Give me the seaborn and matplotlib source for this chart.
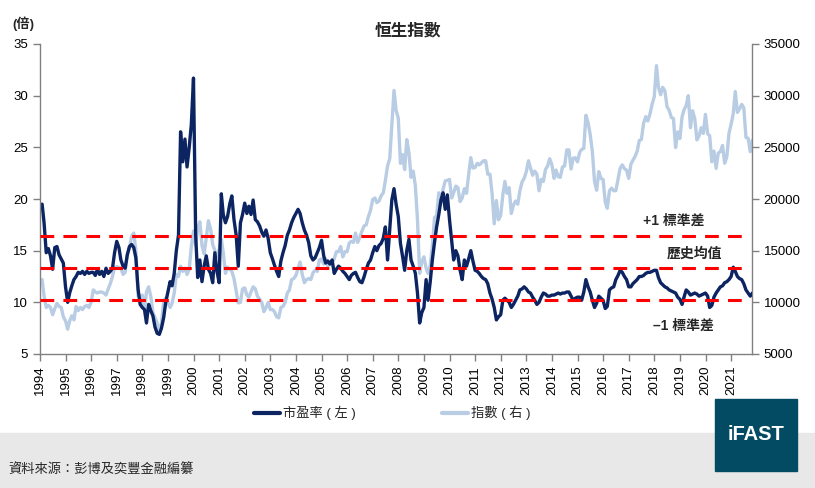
import pandas as pd
import matplotlib.pyplot as plt
import matplotlib.patches as mpatches
from matplotlib.lines import Line2D
import seaborn as sns

# monthly P/E of the Hang Seng Index (left axis), Jan 1994 - Oct 2021
pe_ratio = [
    19.5, 17.7, 14.8, 15.2, 14.5, 13.2, 15.3, 15.4, 14.6, 14.2, 13.8, 11.5,  # 1994
    10.0, 10.9, 11.6, 12.2, 12.5, 12.9, 12.8, 13.0, 12.7, 13.0, 12.8, 12.9,  # 1995
    12.9, 12.6, 13.2, 12.7, 13.0, 12.5, 13.3, 12.8, 13.0, 13.3, 14.8, 15.9,  # 1996
    15.3, 14.1, 13.5, 13.3, 14.6, 15.4, 15.6, 15.3, 14.3, 11.3, 9.8, 9.5,    # 1997
    9.3, 8.0, 9.8, 9.2, 8.7, 7.6, 7.0, 6.9, 7.5, 8.5, 10.0, 11.0,            # 1998
    12.0, 11.6, 12.8, 15.0, 16.5, 26.5, 23.6, 25.8, 23.1, 25.0, 27.2, 31.7,  # 1999
    16.5, 12.4, 14.1, 12.0, 13.5, 14.5, 13.2, 12.8, 11.9, 14.8, 13.0, 11.9,  # 2000
    20.5, 18.5, 17.7, 18.3, 19.5, 20.3, 18.0, 16.5, 13.5, 17.7, 18.5, 19.6,  # 2001
    18.6, 19.3, 18.5, 19.9, 18.0, 17.8, 17.4, 16.8, 16.4, 17.0, 16.2, 14.8,  # 2002
    14.2, 13.6, 13.0, 12.5, 14.0, 14.8, 15.5, 16.5, 17.0, 17.7, 18.2, 18.6,  # 2003
    19.0, 18.6, 17.7, 17.0, 16.5, 15.8, 14.5, 14.1, 14.3, 14.8, 15.3, 16.0,  # 2004
    14.5, 13.8, 14.0, 13.7, 14.1, 12.8, 13.2, 13.5, 13.3, 13.0, 12.8, 12.5,  # 2005
    12.2, 12.6, 12.8, 12.9, 12.4, 12.0, 11.9, 12.5, 13.2, 13.8, 14.1, 14.8,  # 2006
    15.4, 15.0, 15.5, 15.7, 16.2, 17.3, 14.1, 17.0, 19.9, 21.0, 19.5, 18.3,  # 2007
    15.7, 14.5, 13.1, 15.0, 16.1, 14.1, 13.5, 12.8, 10.9, 8.0, 9.0, 9.5,     # 2008
    12.2, 10.2, 12.0, 14.1, 15.8, 17.3, 18.5, 19.9, 20.6, 19.0, 20.4, 18.0,  # 2009
    16.0, 14.1, 15.0, 14.5, 13.1, 12.2, 14.1, 13.5, 14.2, 15.0, 14.0, 13.1,  # 2010
    13.0, 12.8, 12.5, 12.3, 12.2, 11.8, 10.9, 10.3, 9.5, 8.3, 8.6, 8.8,      # 2011
    10.2, 10.4, 10.2, 10.0, 9.5, 9.8, 10.2, 10.6, 11.2, 11.3, 11.5, 11.3,    # 2012
    11.0, 10.9, 10.5, 10.2, 9.8, 10.0, 10.5, 10.9, 10.8, 10.6, 10.6, 10.7,   # 2013
    10.7, 10.8, 10.9, 10.8, 10.9, 10.9, 11.0, 11.0, 10.6, 10.2, 10.4, 10.5,  # 2014
    10.5, 10.2, 11.0, 12.2, 11.5, 11.0, 10.2, 9.5, 9.9, 10.6, 10.4, 10.2,    # 2015
    9.4, 9.6, 11.2, 11.4, 11.5, 12.2, 12.6, 13.1, 12.9, 12.5, 12.2, 11.5,    # 2016
    11.5, 11.8, 12.0, 12.2, 12.5, 12.5, 12.6, 12.8, 12.9, 12.9, 13.0, 13.1,  # 2017
    13.1, 12.4, 11.9, 11.7, 11.5, 11.4, 11.2, 11.1, 11.0, 10.9, 10.5, 10.3,  # 2018
    9.8, 10.5, 11.2, 11.0, 10.7, 10.8, 10.9, 10.8, 10.6, 10.7, 10.8, 10.9,   # 2019
    10.6, 9.5, 9.7, 10.5, 10.9, 11.2, 11.5, 11.6, 11.9, 12.0, 12.2, 12.5,    # 2020
    13.4, 13.0, 12.5, 12.3, 12.2, 11.8, 11.2, 10.9, 10.6, 10.9,              # 2021
]

# monthly index level (right axis)
hsi_level = [
    12200, 10600, 9500, 9700, 9500, 8800, 9400, 9900, 9600, 9500, 8600, 8200,
    7400, 8200, 8700, 8300, 9600, 9200, 9500, 9300, 9600, 9700, 9500, 10000,
    11200, 11000, 10900, 11000, 11000, 10900, 10700, 11300, 11800, 12500, 13400, 13450,
    13400, 13300, 12700, 12900, 14700, 15200, 16400, 16700, 15000, 10600, 10500, 10700,
    9300, 11000, 11500, 10600, 9000, 8500, 8000, 7000, 8000, 10100, 10400, 10000,
    9500, 9900, 10900, 12700, 12500, 13500, 13000, 13300, 12700, 13200, 15400, 16900,
    15500, 17200, 17800, 15500, 14700, 16200, 17900, 17100, 15600, 15000, 14400, 15100,
    16100, 14800, 12800, 13400, 13200, 13000, 12300, 11100, 9950, 10000, 11300, 11400,
    10700, 10500, 11000, 11500, 11300, 10600, 10300, 10000, 9100, 9500, 10000, 9300,
    9300, 9100, 8600, 8500, 9500, 9600, 10000, 10900, 11200, 12200, 12300, 12600,
    13300, 13900, 12700, 11900, 12200, 12300, 12200, 12850, 13100, 13000, 14100, 14200,
    13700, 14200, 13500, 13900, 13900, 14200, 14900, 14900, 15400, 14400, 14900, 14900,
    15750, 15900, 15800, 16700, 15800, 16300, 16900, 17400, 17500, 18300, 18900, 19950,
    20100, 19650, 19800, 20300, 20600, 21800, 23200, 23900, 27100, 30500, 28600, 27800,
    23450, 24300, 22850, 25750, 24500, 22100, 22700, 21250, 18000, 12800, 13900, 14400,
    13300, 12800, 13600, 15500, 18200, 18400, 20600, 19700, 20950, 21750, 21800, 21900,
    20100, 20600, 21250, 21100, 19750, 20100, 21000, 20550, 22350, 24000, 23000, 23050,
    23450, 23300, 23500, 23700, 23700, 22400, 22400, 20500, 17600, 19850, 17990, 18400,
    20400, 21700, 20550, 21100, 18600, 19400, 19800, 19500, 20800, 21650, 22000, 22650,
    23700, 23000, 22300, 22700, 22400, 20800, 21900, 21700, 22850, 23200, 23900, 23300,
    22000, 22800, 22150, 22100, 23100, 23200, 24750, 24750, 22900, 23950, 23990, 23600,
    24500, 24800, 24900, 28100, 27400, 26250, 24600, 21700, 20850, 22650, 21990, 21900,
    19700, 19100, 20800, 21050, 20800, 20800, 21900, 22980, 23300, 22930, 22790, 22000,
    23360, 23740, 24110, 24615, 25660, 25760, 27320, 27970, 27550, 28250, 29180, 29920,
    32900, 30840, 30090, 30800, 30470, 28950, 28580, 27890, 27790, 24980, 26500, 25850,
    27940, 28630, 29050, 30000, 26900, 28540, 27780, 25720, 26090, 26900, 26350, 28190,
    26310, 26130, 23600, 24640, 22960, 24430, 24600, 25180, 23460, 24100, 26340, 27230,
    28280, 30400, 28380, 28720, 29150, 28830, 25960, 25880, 24580, 25700,
]

years = list(range(1994, 2022))
pe_mean = 13.3
pe_std = 3.1
band_labels = ['+1 標準差', '歷史均值', '–1 標準差']

dates = pd.date_range('1994-01-31', periods=len(pe_ratio), freq='ME')
df = pd.DataFrame({'date': dates, 'pe': pe_ratio, 'hsi': hsi_level})

navy = '#0c2461'
light = '#b8cce4'

sns.set_style('white')
plt.rcParams['font.family'] = ['Liberation Sans', 'Noto Sans CJK TC', 'DejaVu Sans']

fig = plt.figure(figsize=(8.15, 4.88), dpi=100)
ax = fig.add_axes([40 / 815, 1 - 354 / 488, 712 / 815, 310 / 488])
ax2 = ax.twinx()

sns.lineplot(data=df, x='date', y='hsi', ax=ax2, color=light, linewidth=2.4)
sns.lineplot(data=df, x='date', y='pe', ax=ax, color=navy, linewidth=2.4)

ax.set_zorder(ax2.get_zorder() + 1)
ax.patch.set_visible(False)

# mean and +/-1 std bands
for lvl in (pe_mean + pe_std, pe_mean, pe_mean - pe_std):
    ax.axhline(lvl, xmin=0, xmax=0.987, color='#ff0000', linewidth=2.2,
               dashes=(4.5, 3.0), zorder=5)

ax.set_ylim(5, 35)
ax.set_yticks(range(5, 36, 5))
ax2.set_ylim(5000, 35000)
ax2.set_yticks(range(5000, 35001, 5000))
ax.set_xlim(pd.Timestamp('1994-01-01'), pd.Timestamp('2021-10-25'))
ax.set_xticks([pd.Timestamp(f'{y}-01-01') for y in years])
ax.set_xticklabels([str(y) for y in years], rotation=90, fontsize=9.5)
ax.set_xlabel('')
ax.set_ylabel('')
ax2.set_ylabel('')

for a in (ax, ax2):
    for s in a.spines.values():
        s.set_visible(False)
    a.tick_params(axis='both', labelsize=9.5, colors='#808080', labelcolor='black',
                  length=5, width=1, direction='out')
ax.spines['left'].set_visible(True)
ax.spines['bottom'].set_visible(True)
ax2.spines['right'].set_visible(True)
for s in (ax.spines['left'], ax.spines['bottom'], ax2.spines['right']):
    s.set_color('#808080')
    s.set_linewidth(1)
ax.tick_params(axis='y', left=True)
ax.tick_params(axis='x', bottom=True)
ax2.tick_params(axis='y', right=True)

# band labels
tr = ax.get_yaxis_transform()
ax.text((674 - 40) / 712, 17.9, band_labels[0], transform=tr,
        ha='center', va='center', fontsize=10, fontweight='bold')
ax.text((694 - 40) / 712, 14.75, band_labels[1], transform=tr,
        ha='center', va='center', fontsize=10, fontweight='bold')
ax.text((683 - 40) / 712, 7.7, band_labels[2], transform=tr,
        ha='center', va='center', fontsize=10, fontweight='bold')

fig.text(408 / 815, 1 - 31 / 488, '恒生指數', ha='center', va='center',
         fontsize=12, fontweight='bold')
fig.text(12 / 815, 1 - 24 / 488, '(倍)', ha='left', va='center',
         fontsize=9.5, fontweight='bold')

handles = [Line2D([], [], color=navy, linewidth=3), Line2D([], [], color=light, linewidth=3)]
fig.legend(handles, ['市盈率 ( 左 )', '指數 ( 右 )'], loc='center',
           bbox_to_anchor=(392 / 815, 1 - 413 / 488), ncol=2, frameon=False,
           fontsize=9.5, handlelength=2.0, handletextpad=0.2, columnspacing=6.5)

# footer band and logo
fig.patches.append(mpatches.Rectangle((0, 0), 1, 1 - 433 / 488, transform=fig.transFigure,
                                      color='#e8e8e8', zorder=0))
fig.patches.append(mpatches.Rectangle((715 / 815, 1 - 471 / 488), 82 / 815, 72 / 488,
                                      transform=fig.transFigure, color='#034b62', zorder=1))
fig.text(756 / 815, 1 - 434 / 488, 'iFAST', ha='center', va='center', color='white',
         fontsize=14.5, fontweight='bold', zorder=2)
fig.text(8 / 815, 1 - 470 / 488, '資料來源：彭博及奕豐金融編纂', ha='left', va='center',
         fontsize=9.5)

fig.savefig('out.png', dpi=100)
